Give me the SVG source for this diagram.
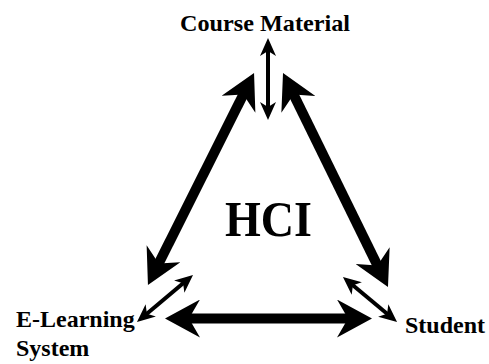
<svg xmlns="http://www.w3.org/2000/svg" width="489" height="364" viewBox="0 0 489 364">
  <style>
    .lbl { font-family: "Liberation Serif", "Times New Roman", serif; font-weight: bold; fill: #000; }
    .big { stroke: #000; stroke-width: 10; fill: none; marker-start: url(#bighead); marker-end: url(#bighead); }
    .small { stroke: #000; stroke-width: 4; fill: none; marker-start: url(#smallhead); marker-end: url(#smallhead); }
  </style>
  <defs>
    <marker id="bighead" markerUnits="userSpaceOnUse" viewBox="0 0 35 38" markerWidth="35" markerHeight="38" refX="13" refY="19" orient="auto-start-reverse">
      <path d="M35,19 L0,0 L11,19 L0,38 Z" fill="#000"/>
    </marker>
    <marker id="smallhead" markerUnits="userSpaceOnUse" viewBox="0 0 18 16" markerWidth="18" markerHeight="16" refX="7" refY="8" orient="auto-start-reverse">
      <path d="M18,8 L0,0 L5,8 L0,16 Z" fill="#000"/>
    </marker>
  </defs>
  <rect width="489" height="364" fill="#fff"/>
  <g id="connectors">
    <line class="big" x1="157.8" y1="265.3" x2="244.2" y2="92.7"/>
    <line class="big" x1="292.7" y1="92.7" x2="378.3" y2="267.2"/>
    <line class="big" x1="187" y1="318.5" x2="350" y2="318.5"/>
    <line class="small" x1="268" y1="49" x2="268" y2="109"/>
    <line class="small" x1="145.4" y1="315" x2="184.6" y2="282"/>
    <line class="small" x1="351.4" y1="284" x2="388.6" y2="315"/>
  </g>
  <g id="course-material">
    <text class="lbl" x="180" y="31" font-size="24" textLength="170" lengthAdjust="spacingAndGlyphs">Course Material</text>
  </g>
  <g id="hci">
    <text class="lbl" x="225" y="236" font-size="51" textLength="87" lengthAdjust="spacingAndGlyphs">HCI</text>
  </g>
  <g id="e-learning-system">
    <text class="lbl" x="16" y="327" font-size="24">E-Learning</text>
    <text class="lbl" x="16" y="356" font-size="24">System</text>
  </g>
  <g id="student">
    <text class="lbl" x="405" y="333" font-size="24">Student</text>
  </g>
</svg>
